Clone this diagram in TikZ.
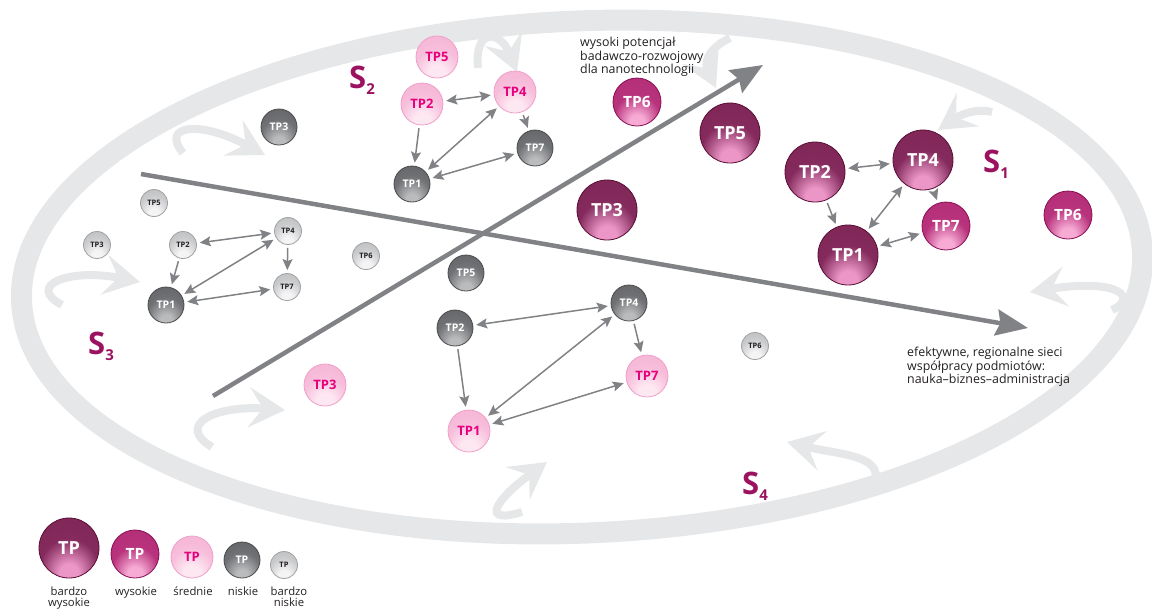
\documentclass[tikz,border=0pt]{standalone}
\usepackage{fontspec}
\setmainfont{Open Sans}
\usetikzlibrary{arrows.meta}

\definecolor{ringgray}{RGB}{230,231,232}
\definecolor{axisgray}{RGB}{128,130,133}
\definecolor{segviolet}{RGB}{155,18,96}
\definecolor{tpmagenta}{RGB}{230,0,126}
\definecolor{txtdark}{RGB}{35,31,32}
% sphere colours: glow, body, rim
\definecolor{vhglow}{RGB}{236,150,200}
\definecolor{vhbody}{RGB}{132,42,92}
\definecolor{vhrim}{RGB}{88,14,52}
\definecolor{higlow}{RGB}{246,170,212}
\definecolor{hibody}{RGB}{184,50,124}
\definecolor{hirim}{RGB}{138,14,84}
\definecolor{mdglow}{RGB}{253,232,242}
\definecolor{mdbody}{RGB}{247,190,219}
\definecolor{mdrim}{RGB}{240,160,200}
\definecolor{loglow}{RGB}{186,187,189}
\definecolor{lobody}{RGB}{112,113,116}
\definecolor{lorim}{RGB}{74,74,76}
\definecolor{vlglow}{RGB}{244,244,245}
\definecolor{vlbody}{RGB}{202,203,205}
\definecolor{vlrim}{RGB}{160,161,163}

\pgfdeclareradialshading{vhball}{\pgfpoint{0bp}{-24bp}}{color(0bp)=(vhglow); color(8bp)=(vhglow); color(24bp)=(vhbody); color(55bp)=(vhbody!80!vhrim); color(72bp)=(vhrim)}
\pgfdeclareradialshading{hiball}{\pgfpoint{0bp}{-24bp}}{color(0bp)=(higlow); color(8bp)=(higlow); color(24bp)=(hibody); color(55bp)=(hibody!80!hirim); color(72bp)=(hirim)}
\pgfdeclareradialshading{mdball}{\pgfpoint{0bp}{-24bp}}{color(0bp)=(mdglow); color(10bp)=(mdglow); color(26bp)=(mdbody); color(72bp)=(mdrim)}
\pgfdeclareradialshading{loball}{\pgfpoint{0bp}{-24bp}}{color(0bp)=(loglow); color(8bp)=(loglow); color(26bp)=(lobody); color(72bp)=(lorim)}
\pgfdeclareradialshading{vlball}{\pgfpoint{0bp}{-24bp}}{color(0bp)=(vlglow); color(10bp)=(vlglow); color(28bp)=(vlbody); color(72bp)=(vlrim)}

\newcommand{\segsub}[1]{\raisebox{-6pt}{\fontsize{15}{15}\selectfont #1}}

\tikzset{
  sphere/.style={circle, inner sep=0pt, line width=0.8pt},
  vhigh/.style={sphere, minimum size=60pt, shade, shading=vhball, draw=vhrim, text=white, font=\bfseries\fontsize{18}{18}\selectfont},
  high/.style={sphere, minimum size=48pt, shade, shading=hiball, draw=hirim, text=white, font=\bfseries\fontsize{15.5}{15.5}\selectfont},
  mid/.style={sphere, minimum size=42pt, shade, shading=mdball, draw=mdrim, text=tpmagenta, font=\bfseries\fontsize{13}{13}\selectfont},
  low/.style={sphere, minimum size=36pt, shade, shading=loball, draw=lorim, text=white, font=\bfseries\fontsize{10.5}{10.5}\selectfont},
  vlow/.style={sphere, minimum size=27pt, shade, shading=vlball, draw=vlrim, text=txtdark, font=\bfseries\fontsize{7.5}{7.5}\selectfont},
  link/.style={draw=axisgray, line width=1.5pt, shorten <=3pt, shorten >=3pt, >={Stealth[length=11pt,width=10pt,inset=2pt]}},
  axis/.style={draw=axisgray, line width=4.5pt, -{Stealth[length=32pt,width=26pt,inset=4pt]}},
  ring/.style={draw=ringgray, line width=21pt},
  swoosh/.style={draw=ringgray, line width=8pt, -{Stealth[length=36pt,width=40pt,inset=14pt]}},
  note/.style={align=left, inner sep=0pt, text=txtdark, font=\fontsize{12.4}{12}\selectfont},
  keytext/.style={align=center, inner sep=0pt, text=txtdark, font=\fontsize{11.3}{11}\selectfont},
  seg/.style={inner sep=0pt, text=segviolet, font=\bfseries\fontsize{31}{31}\selectfont}
}

\begin{document}
\begin{tikzpicture}[x=1pt,y=-1pt]
  \useasboundingbox (0,0) rectangle (1152,611);

  % outer ring and the turning arrows along it
  \draw[ring, rotate around={2.5:(582,277)}] (582,277) ellipse [x radius=561, y radius=256];
  \draw[swoosh] (183,153) .. controls (160,125) and (200,120) .. (265,155);
  \draw[swoosh] (62,305) .. controls (25,285) and (70,268) .. (140,282);
  \draw[swoosh] (212,447) .. controls (175,425) and (215,405) .. (285,410);
  \draw[swoosh] (522,512) .. controls (480,525) and (495,500) .. (547,462);
  \draw[swoosh] (872,488) .. controls (890,455) and (840,455) .. (787,442);
  \draw[swoosh] (1112,310) .. controls (1138,298) and (1120,278) .. (1030,292);
  \draw[swoosh] (992,112) .. controls (975,108) and (960,115) .. (938,130);
  \draw[swoosh] (730,38) .. controls (705,50) and (705,65) .. (716,88);
  \draw[swoosh] (478,68) .. controls (474,28) and (500,30) .. (517,72);

  % the two axes
  \coordinate (rd-start) at (213,396);
  \coordinate (rd-end) at (763,65);
  \coordinate (net-start) at (141,174);
  \coordinate (net-end) at (1028,328);
  \draw[axis] (rd-start) -- (rd-end);
  \draw[axis] (net-start) -- (net-end);

  % technology platforms in the four scenarios
  \foreach \g/\n/\kind/\px/\py in {
      s1/1/vhigh/848/255, s1/2/vhigh/815/172, s1/3/vhigh/607/210, s1/4/vhigh/923/160,
      s1/5/vhigh/730/133, s1/6/high/1068/215, s1/7/high/946/226,
      s2/1/low/412/184, s2/2/mid/422/104, s2/3/low/279/127, s2/4/mid/515/92,
      s2/5/mid/437/57, s2/6/high/637/102, s2/7/low/535/148,
      s3/1/low/166/305, s3/2/vlow/183/245, s3/3/vlow/97/245, s3/4/vlow/288/231,
      s3/5/vlow/154/203, s3/6/vlow/366/256, s3/7/vlow/287/287,
      s4/1/mid/469/431, s4/2/low/455/328, s4/3/mid/325/385, s4/4/low/629/303,
      s4/5/low/466/273, s4/6/vlow/755/346, s4/7/mid/647/376}
    \node[\kind] (\g-tp\n) at (\px,\py) {TP\n};

  \foreach \g in {s1,s2,s3,s4}
    {
      \draw[link,<->] (\g-tp2) -- (\g-tp4);
      \draw[link,->] (\g-tp2) -- (\g-tp1);
      \draw[link,<->] (\g-tp1) -- (\g-tp4);
      \draw[link,<->] (\g-tp1) -- (\g-tp7);
      \draw[link,->] (\g-tp4) -- (\g-tp7);
    }

  % scenario labels
  \node[seg, anchor=base west] (lab-s1) at (983,172) {S\segsub{1}};
  \node[seg, anchor=base west] (lab-s2) at (349,88) {S\segsub{2}};
  \node[seg, anchor=base west] (lab-s3) at (88,354) {S\segsub{3}};
  \node[seg, anchor=base west] (lab-s4) at (742,494) {S\segsub{4}};

  % axis descriptions
  \node[note, anchor=north west] (txt-rd) at (580,37) {wysoki potencjał\\badawczo-rozwojowy\\dla nanotechnologii};
  \node[note, anchor=north west] (txt-net) at (907,347) {efektywne, regionalne sieci\\współpracy podmiotów:\\nauka–biznes–administracja};

  % legend
  \node[vhigh] (key-vh) at (69,548) {TP};
  \node[high] (key-hi) at (135,554) {TP};
  \node[mid] (key-md) at (192,557) {TP};
  \node[low] (key-lo) at (242,560) {TP};
  \node[vlow] (key-vl) at (284,565) {TP};
  \node[keytext, anchor=north] (key-vh-txt) at (69,587) {bardzo\\wysokie};
  \node[keytext, anchor=north] (key-hi-txt) at (136,587) {wysokie};
  \node[keytext, anchor=north] (key-md-txt) at (193,587) {średnie};
  \node[keytext, anchor=north] (key-lo-txt) at (243,587) {niskie};
  \node[keytext, anchor=north] (key-vl-txt) at (289,587) {bardzo\\niskie};
\end{tikzpicture}
\end{document}
